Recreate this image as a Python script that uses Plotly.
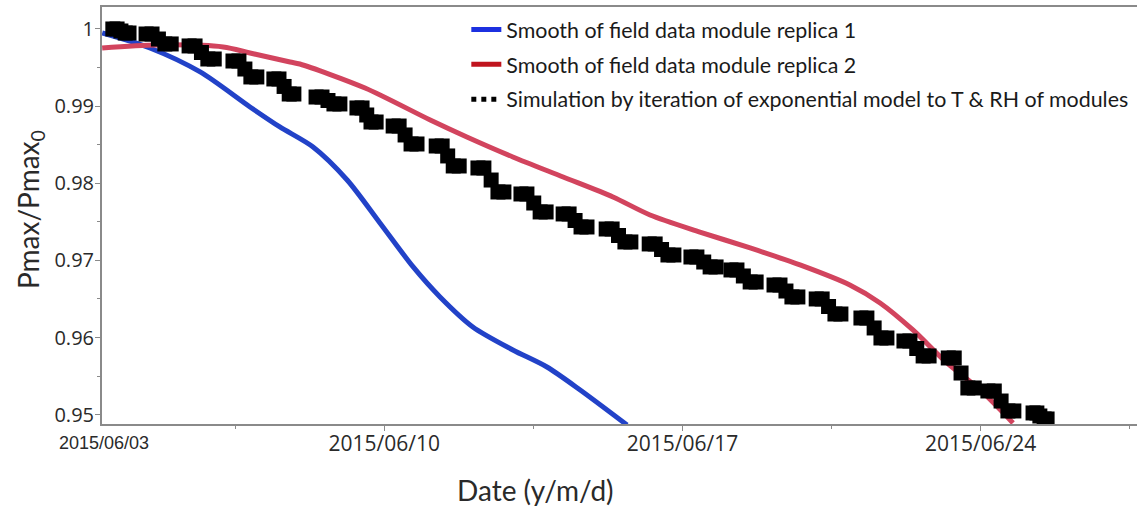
import plotly.graph_objects as go
import pandas as pd

# ---------------- data ----------------
BASE_DATE = "2015-06-03"

series_names = [
    "Smooth of field data module replica 1",
    "Smooth of field data module replica 2",
    "Simulation by iteration of exponential model to T & RH of modules",
]

# days since 2015-06-03 00:00
blue_days = [0.38, 1.50, 2.68, 3.85, 4.55, 5.33, 6.13, 6.90, 7.68, 8.31, 9.08,
             10.02, 10.82, 11.60, 12.70]
blue_vals = [0.99948, 0.99754, 0.99443, 0.98989, 0.98730, 0.98470, 0.98042,
             0.97485, 0.96915, 0.96526, 0.96137, 0.95839, 0.95618, 0.95320, 0.94866]

red_days = [0.38, 1.67, 3.22, 3.85, 4.79, 5.02, 6.55, 8.08, 8.94, 10.02, 11.20,
            12.37, 13.24, 14.41, 15.59, 16.76, 17.93, 18.64, 19.41, 20.21, 20.99, 21.76]
red_vals = [0.99754, 0.99793, 0.99767, 0.99689, 0.99572, 0.99546, 0.99235, 0.98820,
            0.98600, 0.98341, 0.98081, 0.97822, 0.97589, 0.97368, 0.97161, 0.96941,
            0.96681, 0.96448, 0.96098, 0.95670, 0.95320, 0.94892]

sim_days = [
    0.63, 0.73, 0.82, 0.92, 1.01,
    1.41, 1.55, 1.70, 1.85, 2.00,
    2.42, 2.56, 2.71, 2.86, 3.01,
    3.45, 3.59, 3.73, 3.87, 4.01,
    4.41, 4.53, 4.65, 4.77, 4.88,
    5.40, 5.54, 5.68, 5.82, 5.96,
    6.36, 6.48, 6.59, 6.69, 6.81,
    7.21, 7.35, 7.49, 7.63, 7.77,
    8.22, 8.36, 8.49, 8.62, 8.76,
    9.20, 9.34, 9.51, 9.67, 9.81,
    10.21, 10.35, 10.51, 10.66, 10.80,
    11.20, 11.34, 11.48, 11.62, 11.76,
    12.21, 12.35, 12.50, 12.65, 12.79,
    13.22, 13.36, 13.51, 13.66, 13.80,
    14.20, 14.34, 14.50, 14.65, 14.79,
    15.14, 15.28, 15.43, 15.59, 15.73,
    16.15, 16.29, 16.43, 16.57, 16.71,
    17.14, 17.28, 17.43, 17.58, 17.72,
    18.19, 18.33, 18.50, 18.66, 18.80,
    19.20, 19.34, 19.50, 19.65, 19.79,
    20.24, 20.38, 20.54, 20.70, 20.85,
    21.17, 21.32, 21.48, 21.64, 21.78,
    22.23, 22.32, 22.39, 22.49, 22.56,
]
sim_vals = [
    1.00000, 1.00000, 0.99974, 0.99948, 0.99948,
    0.99935, 0.99935, 0.99870, 0.99806, 0.99806,
    0.99780, 0.99780, 0.99695, 0.99611, 0.99611,
    0.99585, 0.99585, 0.99481, 0.99378, 0.99378,
    0.99352, 0.99352, 0.99255, 0.99157, 0.99157,
    0.99118, 0.99118, 0.99073, 0.99028, 0.99028,
    0.98976, 0.98976, 0.98885, 0.98794, 0.98794,
    0.98742, 0.98742, 0.98626, 0.98509, 0.98509,
    0.98483, 0.98483, 0.98354, 0.98224, 0.98224,
    0.98198, 0.98198, 0.98042, 0.97887, 0.97887,
    0.97861, 0.97861, 0.97744, 0.97628, 0.97628,
    0.97602, 0.97602, 0.97517, 0.97433, 0.97433,
    0.97407, 0.97407, 0.97323, 0.97239, 0.97239,
    0.97213, 0.97213, 0.97141, 0.97070, 0.97070,
    0.97044, 0.97044, 0.96979, 0.96915, 0.96915,
    0.96876, 0.96876, 0.96798, 0.96720, 0.96720,
    0.96681, 0.96681, 0.96603, 0.96526, 0.96526,
    0.96500, 0.96500, 0.96402, 0.96305, 0.96305,
    0.96253, 0.96253, 0.96124, 0.95994, 0.95994,
    0.95955, 0.95955, 0.95858, 0.95761, 0.95761,
    0.95735, 0.95735, 0.95540, 0.95346, 0.95346,
    0.95307, 0.95307, 0.95177, 0.95048, 0.95048,
    0.95022, 0.95022, 0.94983, 0.94944, 0.94944,
]

ytick_vals = [0.95, 0.96, 0.97, 0.98, 0.99, 1.0]
ytick_text = ["0.95", "0.96", "0.97", "0.98", "0.99", "1"]
xtick_dates = ["2015-06-10", "2015-06-17", "2015-06-24"]
xtick_text = ["2015/06/10", "2015/06/17", "2015/06/24"]
start_label = "2015/06/03"

x_title = "Date (y/m/d)"
y_title = "Pmax/Pmax<sub>0</sub>"

# ---------------- helpers ----------------
base = pd.Timestamp(BASE_DATE)


def to_dates(days):
    return [base + pd.Timedelta(days=d) for d in days]


AXIS_COL = "#8a8a8a"
TXT_COL = "#2a2a2a"

fig = go.Figure()

fig.add_trace(go.Scatter(
    x=to_dates(blue_days), y=blue_vals, mode="lines",
    line=dict(color="#2242c8", width=5, shape="spline", smoothing=0.8),
    showlegend=False, hoverinfo="skip"))
fig.add_trace(go.Scatter(
    x=to_dates(red_days), y=red_vals, mode="lines",
    line=dict(color="#d2445e", width=5, shape="spline", smoothing=0.8),
    showlegend=False, hoverinfo="skip"))
fig.add_trace(go.Scatter(
    x=to_dates(sim_days), y=sim_vals, mode="markers",
    marker=dict(symbol="square", size=15, color="black", line=dict(width=0)),
    showlegend=False, hoverinfo="skip"))

# legend entries
legend_styles = [
    dict(color="#1c30e0", width=5, dash="solid"),
    dict(color="#c0141e", width=5, dash="solid"),
    dict(color="black", width=5, dash="5px,5px"),
]
for i, (name, st) in enumerate(zip(series_names, legend_styles)):
    fig.add_trace(go.Scatter(
        x=[None], y=[None], mode="lines", name=name,
        line=st, legendgroup=f"g{i}", showlegend=True))

fig.update_layout(
    width=1137, height=507,
    margin=dict(l=102, r=0, t=7, b=83),
    paper_bgcolor="white", plot_bgcolor="white",
    showlegend=True,
    legend=dict(
        x=0.352, y=0.995, xanchor="left", yanchor="top",
        bgcolor="rgba(0,0,0,0)", borderwidth=0,
        font=dict(family="Lato", size=21.4, color="#1a1a1a"),
        tracegroupgap=4, traceorder="grouped",
    ),
    xaxis=dict(
        type="date",
        range=["2015-06-03 09:01", "2015-06-27 16:05"],
        tickmode="array", tickvals=xtick_dates, ticktext=xtick_text,
        ticks="outside", ticklen=5, tickwidth=1, tickcolor=AXIS_COL,
        ticklabelstandoff=-5,
        showline=True, linecolor=AXIS_COL, linewidth=2, mirror=True,
        showgrid=False, zeroline=False,
        tickfont=dict(family="Open Sans", size=21, color=TXT_COL),
        minor=dict(ticks="outside", ticklen=3, tickcolor=AXIS_COL,
                   tick0="2015-06-03", dtick=3.5 * 86400000, showgrid=False),
    ),
    yaxis=dict(
        range=[0.94879, 1.00285],
        tickmode="array", tickvals=ytick_vals, ticktext=ytick_text,
        ticks="outside", ticklen=5, tickwidth=1, tickcolor=AXIS_COL,
        ticklabelstandoff=-3,
        showline=True, linecolor=AXIS_COL, linewidth=2, mirror=False,
        showgrid=False, zeroline=False,
        tickfont=dict(family="Open Sans", size=20, color=TXT_COL),
        minor=dict(ticks="outside", ticklen=3, tickcolor=AXIS_COL,
                   tick0=0.95, dtick=0.005, showgrid=False),
        automargin=False,
    ),
)

# start-date label, axis titles
fig.add_annotation(
    x=base + pd.Timedelta(days=0.43), y=0, xref="x", yref="paper",
    yshift=-19, text=start_label, showarrow=False,
    xanchor="center", yanchor="middle",
    font=dict(family="Liberation Sans", size=18, color=TXT_COL))
fig.add_annotation(
    x=(535 - 102) / 1035, y=0, xref="paper", yref="paper",
    yshift=-66, text=x_title, showarrow=False,
    xanchor="center", yanchor="middle",
    font=dict(family="Lato", size=28, color=TXT_COL))
fig.add_annotation(
    x=0, y=(424 - 210) / 417, xref="paper", yref="paper",
    xshift=-72, text=y_title, showarrow=False, textangle=-90,
    xanchor="center", yanchor="middle",
    font=dict(family="Lato", size=28, color=TXT_COL))

fig.write_html("out.html", config={"displayModeBar": False},
               post_script="document.body.style.margin='0';")
